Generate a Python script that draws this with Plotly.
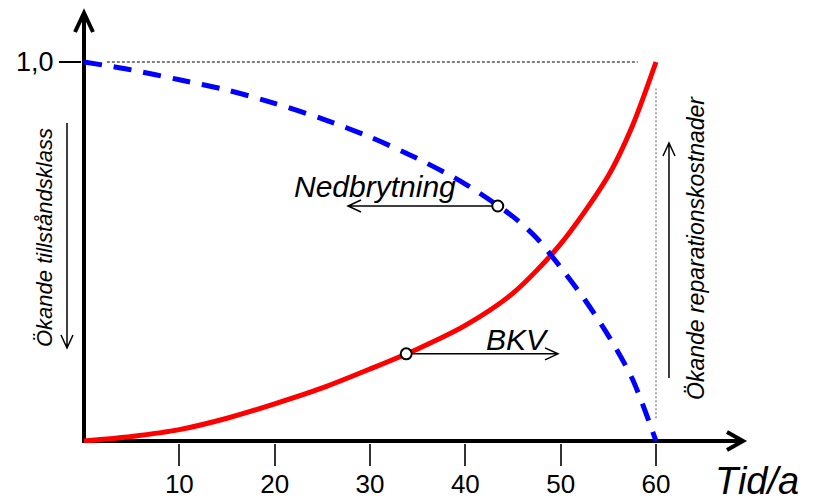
import plotly.graph_objects as go

# Reparationskostnad (BKV), röd kurva
tid_bkv = [0, 5, 10, 15, 20, 25, 30, 35, 40, 45, 50, 55, 57.5, 60]
bkv = [0, 0.012, 0.030, 0.060, 0.098, 0.140, 0.190, 0.243, 0.305, 0.390, 0.520, 0.700, 0.830, 1.0]

# Tillstånd (nedbrytning), blå streckad kurva
tid_ned = [0, 5, 10, 15, 20, 25, 30, 35, 40, 45, 47.5, 50, 52.5, 55, 57.5, 60]
ned = [1.0, 0.979, 0.953, 0.926, 0.891, 0.850, 0.802, 0.745, 0.678, 0.592, 0.535, 0.458, 0.374, 0.278, 0.165, 0]

# markerade punkter
punkt_tid = [33.8, 43.4]
punkt_varde = [0.230, 0.620]

x_ticks = [10, 20, 30, 40, 50, 60]
y_ticks = [1.0]
y_ticktext = ["1,0"]

FONT = "Liberation Sans, Arial, sans-serif"

# figure geometry (pixels)
W, H = 816, 502
L, R, T, B = 82, 75, 15, 59
PW, PH = W - L - R, H - T - B
X0, Y0 = 84, 441          # pixel of data origin
SX, SY = 572 / 60, 379    # pixels per data unit

x_range = [(L - X0) / SX, (W - R - X0) / SX]
y_range = [(Y0 - (H - B)) / SY, (Y0 - T) / SY]


def px(x):
    return X0 + x * SX


def py(y):
    return Y0 - y * SY


def to_paper(x, y):
    return (x - L) / PW, (H - B - y) / PH


def arrow(x0, y0, x1, y1, width, back, half):
    # open V arrow from (x0,y0) to tip (x1,y1), all in pixels
    dxp, dyp = x1 - x0, y1 - y0
    n = (dxp ** 2 + dyp ** 2) ** 0.5
    ux, uy = dxp / n, dyp / n
    a1 = (x1 - ux * back - uy * half, y1 - uy * back + ux * half)
    a2 = (x1 - ux * back + uy * half, y1 - uy * back - ux * half)
    p = [to_paper(*q) for q in [(x0, y0), (x1, y1), a1, (x1, y1), a2]]
    path = "M{:.5f},{:.5f} L{:.5f},{:.5f} M{:.5f},{:.5f} L{:.5f},{:.5f} L{:.5f},{:.5f}".format(
        *[c for q in p for c in q])
    return dict(type="path", xref="paper", yref="paper", path=path,
                line=dict(color="black", width=width))


def text(s, x, y, size, angle=0):
    xp, yp = to_paper(x, y)
    return dict(text=s, x=xp, y=yp, xref="paper", yref="paper", showarrow=False,
                xanchor="center", yanchor="middle", textangle=angle,
                font=dict(family=FONT, size=size, color="black"))


fig = go.Figure()
fig.add_trace(go.Scatter(x=tid_bkv, y=bkv, mode="lines",
                         line=dict(color="#ff0000", width=5, shape="spline", smoothing=0.8),
                         hoverinfo="skip"))
fig.add_trace(go.Scatter(x=tid_ned, y=ned, mode="lines",
                         line=dict(color="#0000ff", width=5, shape="spline", smoothing=0.8,
                                   dash="18px,12px"),
                         hoverinfo="skip"))
fig.add_trace(go.Scatter(x=punkt_tid, y=punkt_varde, mode="markers", cliponaxis=False,
                         marker=dict(size=11, color="white", line=dict(color="black", width=2)),
                         hoverinfo="skip"))

bx, by = px(punkt_tid[0]), py(punkt_varde[0])
nx, ny = px(punkt_tid[1]), py(punkt_varde[1])

shapes = [
    # dotted guides
    dict(type="line", xref="x", yref="y", x0=2.4, x1=58.1, y0=1.0, y1=1.0,
         line=dict(color="black", width=1, dash="3px,2px")),
    dict(type="line", xref="x", yref="y", x0=60, x1=60, y0=0.06, y1=0.93,
         line=dict(color="#555", width=1, dash="2px,2px")),
    # axis arrow heads
    arrow(X0, 30, X0, 13, 4, 19, 9),
    arrow(730, Y0, 743, Y0, 4, 16, 9),
    # annotation arrows
    arrow(nx - 6, ny, 348, ny, 1.5, 13, 6),
    arrow(bx + 6, by, 558, by, 1.5, 13, 6),
    arrow(67, 123, 67, 348, 1.5, 13, 6),
    arrow(669, 378, 669, 143, 1.5, 13, 6),
]

annotations = [
    text("<i>Nedbrytning</i>", 375, 186, 30),
    text("<i>BKV</i>", 517, 339, 30),
    text("<i>Tid/a</i>", 757, 481, 38),
    text("<i>Ökande tillståndsklass</i>", 45, 238, 22, -90),
    text("<i>Ökande reparationskostnader</i>", 696, 248, 23, -90),
]

fig.update_layout(
    width=W, height=H,
    margin=dict(l=L, r=R, t=T, b=B, pad=0, autoexpand=False),
    paper_bgcolor="white", plot_bgcolor="white",
    showlegend=False,
    shapes=shapes,
    annotations=annotations,
    xaxis=dict(range=x_range, showgrid=False, showline=False, zeroline=True,
               zerolinecolor="black", zerolinewidth=4,
               tickmode="array", tickvals=x_ticks, ticks="outside", ticklen=22,
               tickwidth=1.5, tickcolor="#333", ticklabelstandoff=-4,
               tickfont=dict(family=FONT, size=26, color="black")),
    yaxis=dict(range=y_range, showgrid=False, showline=False, zeroline=True,
               zerolinecolor="black", zerolinewidth=4,
               tickmode="array", tickvals=y_ticks, ticktext=y_ticktext, ticks="outside",
               ticklen=22, tickwidth=1.5, tickcolor="black",
               tickfont=dict(family=FONT, size=27, color="black")),
)

fig.write_html("out.html", config={"displayModeBar": False},
               post_script="document.body.style.margin='0';document.body.style.overflow='hidden';")
